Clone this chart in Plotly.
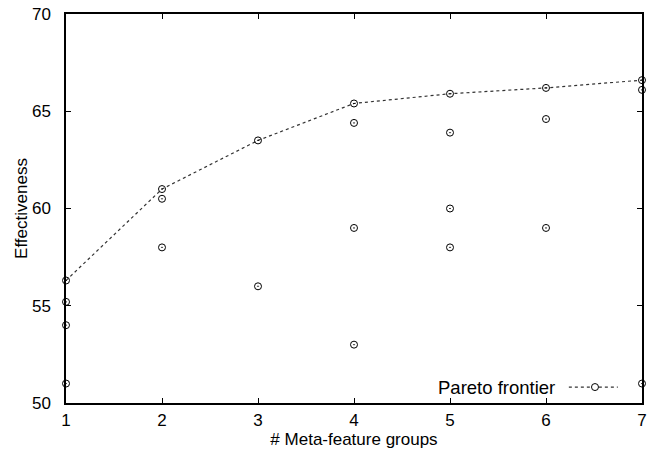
import plotly.graph_objects as go

# Pareto frontier
pareto_x = [1, 2, 3, 4, 5, 6, 7]
pareto_y = [56.3, 61.0, 63.5, 65.4, 65.9, 66.2, 66.6]

# Other configurations
other_x = [1, 1, 1, 2, 2, 3, 4, 4, 4, 5, 5, 5, 6, 6, 7, 7]
other_y = [55.2, 54.0, 51.0, 60.5, 58.0, 56.0, 64.4, 59.0, 53.0, 63.9, 60.0, 58.0, 64.6, 59.0, 66.1, 51.0]

x_ticks = [1, 2, 3, 4, 5, 6, 7]
y_ticks = [50, 55, 60, 65, 70]

FONT = "Liberation Sans, Arial, Helvetica, sans-serif"
marker = dict(symbol="circle-open-dot", size=7, color="black", line=dict(width=1, color="black"))

fig = go.Figure()
fig.add_trace(go.Scatter(x=other_x, y=other_y, mode="markers", marker=marker,
                         showlegend=False, cliponaxis=False, hoverinfo="skip"))
fig.add_trace(go.Scatter(x=pareto_x, y=pareto_y, mode="lines+markers", name="Pareto frontier",
                         line=dict(color="#333333", width=1.2, dash="dot"), marker=marker,
                         showlegend=False, cliponaxis=False, hoverinfo="skip"))

# legend (gnuplot style: text left of sample)
ly = 0.041
fig.add_shape(type="line", xref="paper", yref="paper", x0=0.873, x1=0.958, y0=ly, y1=ly,
              line=dict(color="#333333", width=1.2, dash="dot"))
fig.add_shape(type="circle", xref="paper", yref="paper",
              x0=0.9184 - 3.5/576, x1=0.9184 + 3.5/576, y0=ly - 3.5/389, y1=ly + 3.5/389,
              line=dict(color="black", width=1), fillcolor="white")
fig.add_annotation(xref="paper", yref="paper", x=0.853, y=ly, text="Pareto frontier",
                   showarrow=False, xanchor="right", yanchor="middle",
                   font=dict(size=18.5, color="black", family=FONT))

axis_common = dict(showgrid=False, zeroline=False, showline=True, linecolor="black", linewidth=1.5,
                   mirror="allticks", ticks="inside", ticklen=5, tickwidth=1, tickcolor="black",
                   automargin=False, ticklabeloverflow="allow",
                   tickfont=dict(size=17, color="black", family=FONT))
fig.update_xaxes(range=[1, 7], tickvals=x_ticks, ticktext=[str(v) for v in x_ticks],
                 ticklabelstandoff=1,
                 title=dict(text="# Meta-feature groups", font=dict(size=17, color="black", family=FONT), standoff=4),
                 **axis_common)
fig.update_yaxes(range=[50, 70], tickvals=y_ticks, ticktext=[str(v) for v in y_ticks],
                 ticklabelstandoff=10,
                 title=dict(text="Effectiveness", font=dict(size=17, color="black", family=FONT), standoff=0),
                 **axis_common)

fig.update_layout(width=648, height=461, margin=dict(l=66, r=6, t=14, b=58),
                  plot_bgcolor="white", paper_bgcolor="white", hovermode=False,
                  font=dict(family=FONT, color="black"))
fig.write_html(
    "out.html",
    config={"displayModeBar": False},
    post_script=("document.documentElement.style.margin='0';document.body.style.margin='0';"
                 "document.documentElement.style.overflow='hidden';document.body.style.overflow='hidden';"),
)
